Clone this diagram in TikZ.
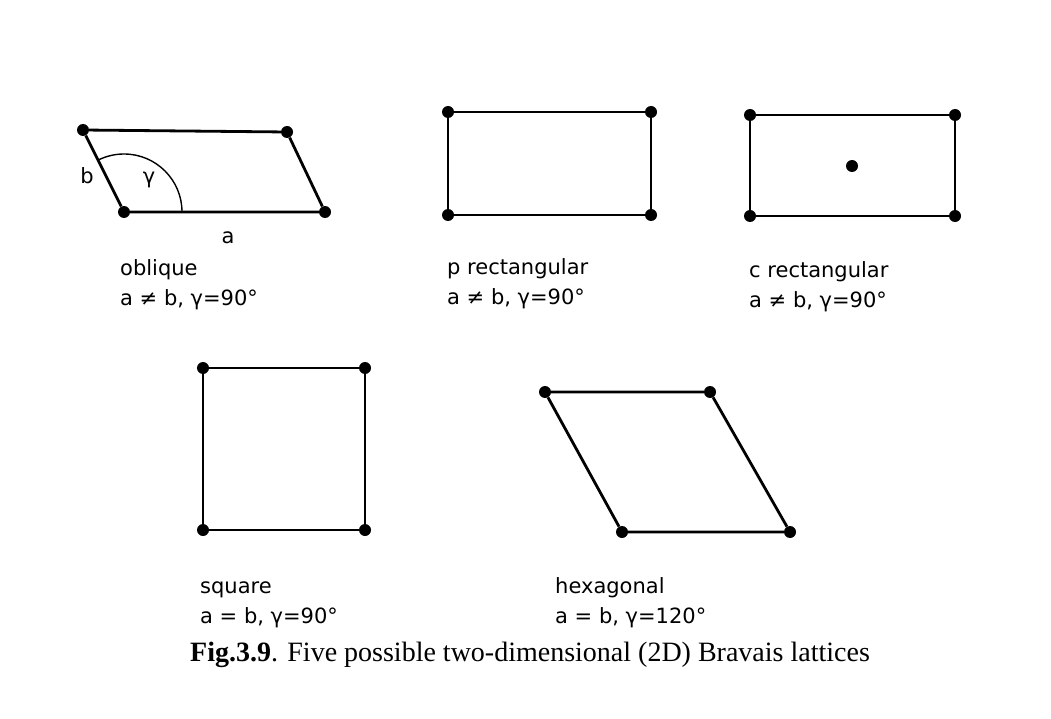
\documentclass[tikz,border=0pt]{standalone}
\usepackage{fontspec}
\setmainfont{Liberation Serif}
\newfontfamily\latfont{DejaVu Sans}
\usetikzlibrary{positioning,calc}

\begin{document}
\begin{tikzpicture}[x=1pt, y=-1pt]
\tikzstyle{latpoint} = [circle, fill=black, inner sep=0pt, minimum size=12pt]
\tikzstyle{edge} = [draw, line width=2.8pt]
\tikzstyle{arcline} = [draw, line width=1.4pt]
\tikzstyle{latname} = [font=\latfont\fontsize{21}{30}\selectfont, align=left, anchor=north west, inner sep=0pt]
\tikzstyle{sidelabel} = [font=\latfont\fontsize{21}{25}\selectfont, inner sep=0pt]

\useasboundingbox (0,0) rectangle (1051,719);

% oblique
\node [latpoint] (ob1) at (83,130) {};
\node [latpoint] (ob2) at (287,132) {};
\node [latpoint] (ob3) at (124,212) {};
\node [latpoint] (ob4) at (325,212) {};
\path [edge] (ob1) -- (ob2) -- (ob4) -- (ob3) -- (ob1);
\path [arcline] ($(ob3)+(58,0)$) arc[start angle=0, end angle=-116.6, radius=58];
\node [sidelabel] (sb) at (87,176) {b};
\node [sidelabel] (sg) at (149,180) {γ};
\node [sidelabel] (sa) at (228,238) {a};
\node [latname] (obtext) at (120,254) {\strut oblique\\a ≠ b, γ=90°};

% p rectangular
\node [latpoint] (pr1) at (448,112) {};
\node [latpoint] (pr2) at (651,112) {};
\node [latpoint] (pr3) at (448,215) {};
\node [latpoint] (pr4) at (651,215) {};
\path [edge] (pr1) -- (pr2) -- (pr4) -- (pr3) -- (pr1);
\node [latname] (prtext) at (447,253) {\strut p rectangular\\a ≠ b, γ=90°};

% c rectangular
\node [latpoint] (cr1) at (750,115) {};
\node [latpoint] (cr2) at (955,115) {};
\node [latpoint] (cr3) at (750,216) {};
\node [latpoint] (cr4) at (955,216) {};
\node [latpoint] (cr5) at (852,166) {};
\path [edge] (cr1) -- (cr2) -- (cr4) -- (cr3) -- (cr1);
\node [latname] (crtext) at (749,256) {\strut c rectangular\\a ≠ b, γ=90°};

% square
\node [latpoint] (sq1) at (203,368) {};
\node [latpoint] (sq2) at (365,368) {};
\node [latpoint] (sq3) at (203,530) {};
\node [latpoint] (sq4) at (365,530) {};
\path [edge] (sq1) -- (sq2) -- (sq4) -- (sq3) -- (sq1);
\node [latname] (sqtext) at (200,572) {\strut square\\a = b, γ=90°};

% hexagonal
\node [latpoint] (hx1) at (545,392) {};
\node [latpoint] (hx2) at (710,392) {};
\node [latpoint] (hx3) at (622,532) {};
\node [latpoint] (hx4) at (790,532) {};
\path [edge] (hx1) -- (hx2) -- (hx4) -- (hx3) -- (hx1);
\node [latname] (hxtext) at (555,572) {\strut hexagonal\\a = b, γ=120°};

\node [anchor=base west, inner sep=0pt, font=\fontsize{28}{32}\selectfont] (caption) at (190,661) {\textbf{Fig.3.9}. Five possible two-dimensional (2D) Bravais lattices};

\end{tikzpicture}
\end{document}
